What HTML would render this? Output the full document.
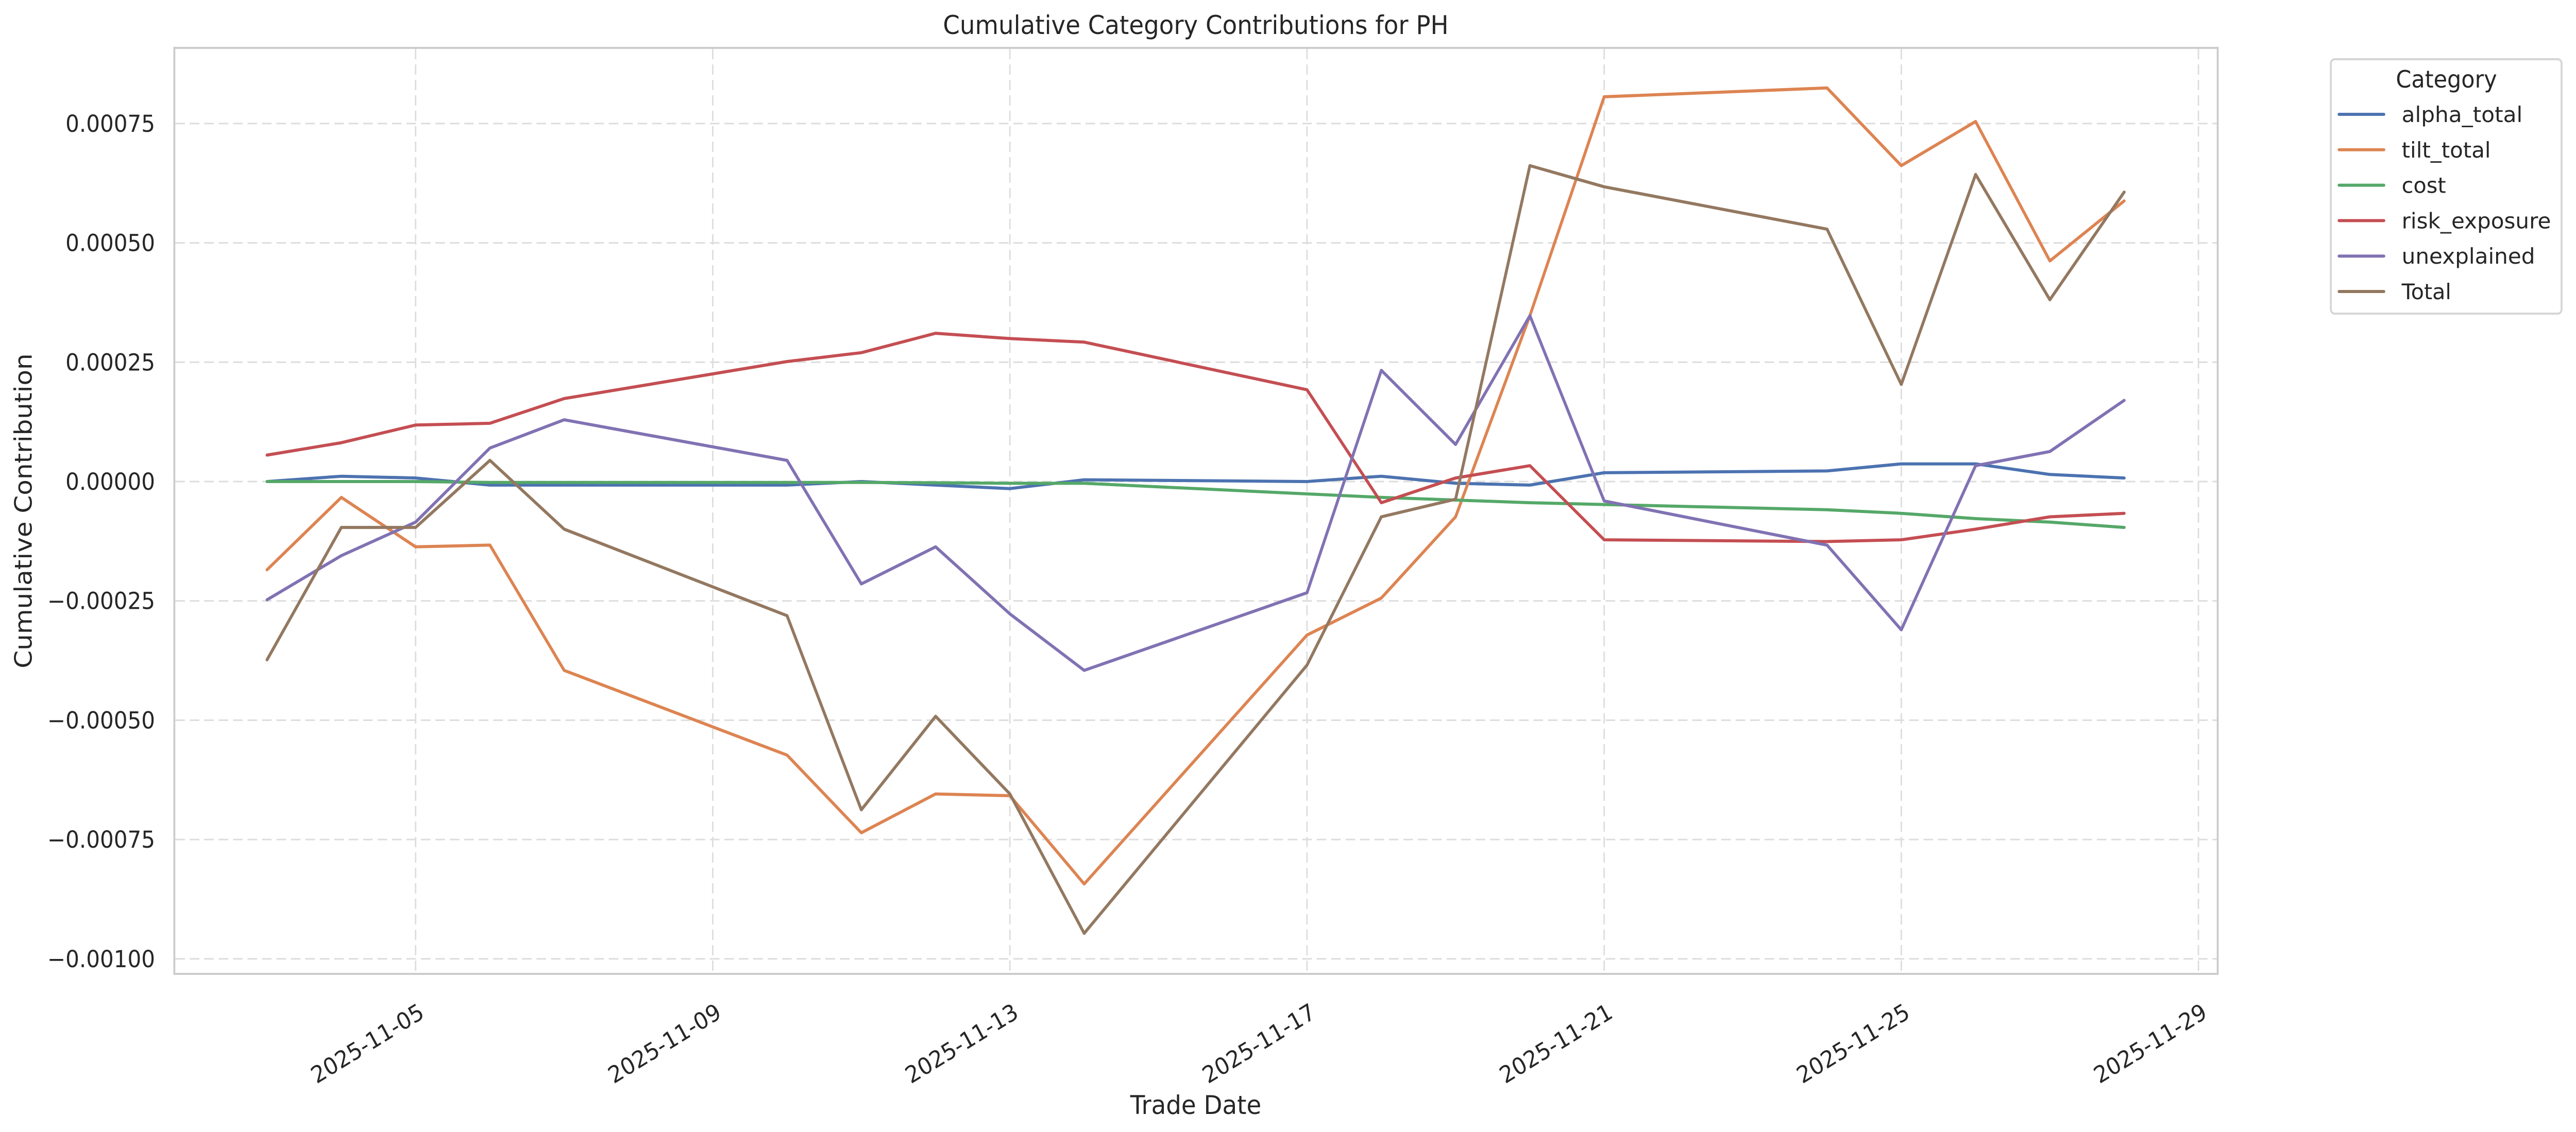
<!DOCTYPE html>
<html><head><meta charset="utf-8"><style>
html,body{margin:0;padding:0;background:#fff;width:100%;height:100%;overflow:hidden;}
svg{display:block;font-family:"DejaVu Sans","Liberation Sans",sans-serif;overflow:hidden;width:100vw;height:100vh;}
</style></head><body>
<svg id="s" viewBox="0 0 5349 2198" preserveAspectRatio="none" xmlns="http://www.w3.org/2000/svg">
<rect width="5349" height="2198" fill="#fff"/>
<g id="grid" stroke="#dddddd" stroke-width="3" stroke-dasharray="20,10" fill="none"></g>
<rect x="362" y="93" width="4243" height="1798" fill="none" stroke="#cccccc" stroke-width="4"/>
<g id="series" fill="none" stroke-width="6" stroke-linejoin="round" stroke-linecap="round"></g>
<g id="labels" fill="#262626" font-size="45"></g>
<text x="2483" y="66" text-anchor="middle" font-size="50" fill="#262626">Cumulative Category Contributions for PH</text>
<text x="2483" y="2163" text-anchor="middle" font-size="50" fill="#262626">Trade Date</text>
<text transform="translate(66,992) rotate(-90)" text-anchor="middle" font-size="50" fill="#262626">Cumulative Contribution</text>
<rect x="4840" y="115" width="479" height="494" rx="8" fill="#fff" stroke="#d6d6d6" stroke-width="4"/>
<text x="5080" y="170" text-anchor="middle" font-size="46" fill="#262626">Category</text>
<g id="legend" font-size="42" fill="#262626"></g>
</svg>
<script>
var NS="http://www.w3.org/2000/svg";
function el(p,t,a,txt){var e=document.createElementNS(NS,t);for(var k in a)e.setAttribute(k,a[k]);if(txt!==undefined)e.textContent=txt;document.getElementById(p).appendChild(e);return e;}
function X(d){return 863+(d-5)*154.25;}
function Yv(v){return 935-v*926800;}
function Yd(yd){return 935+(yd-274)*3.427;}
[5,9,13,17,21,25,29].forEach(function(d){el("grid","line",{x1:X(d),x2:X(d),y1:95,y2:1889});});
var yt=[[0.00075,"0.00075"],[0.0005,"0.00050"],[0.00025,"0.00025"],[0,"0.00000"],[-0.00025,"\u22120.00025"],[-0.0005,"\u22120.00050"],[-0.00075,"\u22120.00075"],[-0.001,"\u22120.00100"]];
yt.forEach(function(t){var y=Yv(t[0]);el("grid","line",{x1:364,x2:4603,y1:y,y2:y});el("labels","text",{x:322,y:y+16,"text-anchor":"end"},t[1]);});
[5,9,13,17,21,25,29].forEach(function(d){var x=X(d);el("labels","text",{transform:"translate("+(x+4)+",1945) rotate(-30)","text-anchor":"end",dy:"0.75em"},"2025-11-"+(d<10?"0"+d:d));});
var days=[3,4,5,6,7,10,11,12,13,14,17,18,19,20,21,24,25,26,27,28];
var S=[
["alpha_total","#4c72b0",[274,271,272,276,276,276,274,276,278,273,274,271,275,276,269,268,264,264,270,272],251],
["tilt_total","#dd8452",[324,283,311,310,381,429,473,451,452,502,361,340,294,180,56,51,95,70,149,115],185],
["cost","#55a868",[274,274,274,274.5,274.5,274.5,274.5,274.7,275,275,281,283,284.5,286,287,290,292,295,297,300],92],
["risk_exposure","#c44e52",[259,252,242,241,227,206,201,190,193,195,222,286,272,265,307,308,307,301,294,292],310],
["unexplained","#8172b3",[341,316,297,255,239,262,332,311,349,381,337,211,253,180,285,310,358,265,257,228],277],
["Total","#937860",[375,300,300,262,301,350,460,407,451,530,378,294,284,95,107,131,219,100,171,110],103]
];
S.forEach(function(s,i){
 var pts=days.map(function(d,j){return X(d).toFixed(1)+","+Yd(s[2][j]).toFixed(1);}).join(" ");
 el("series","polyline",{points:pts,stroke:s[1]});
 var ly=222+i*68.8;
 el("legend","line",{x1:4857,x2:4950,y1:ly,y2:ly,stroke:s[1],"stroke-width":6,"stroke-linecap":"round"});
 el("legend","text",{x:4987,y:ly+15,textLength:s[3],lengthAdjust:"spacingAndGlyphs"},s[0]);
});
</script>
</body></html>
